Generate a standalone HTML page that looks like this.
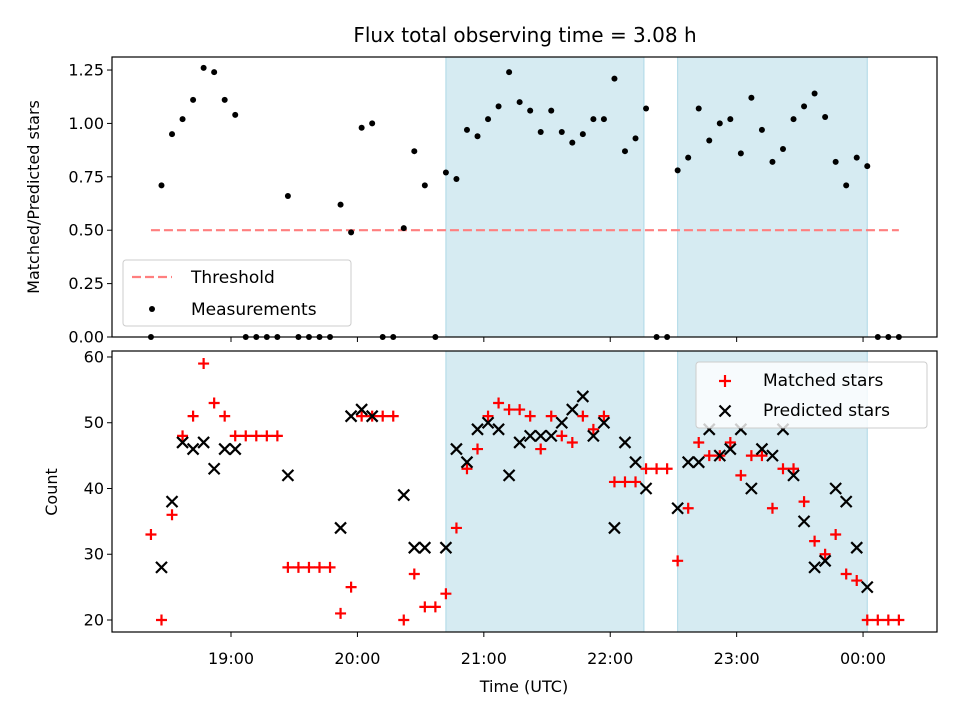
<!DOCTYPE html>
<html><head><meta charset="utf-8"><style>
html,body{margin:0;padding:0;background:#fff;}
svg{display:block;font-family:"DejaVu Sans","Liberation Sans",sans-serif;}
</style></head><body>
<svg id="fig" width="960" height="720" viewBox="0 0 960 720" xmlns="http://www.w3.org/2000/svg">
<rect width="960" height="720" fill="#fff"/>
<text x="525" y="42" font-size="20" text-anchor="middle">Flux total observing time = 3.08 h</text>
<g id="top"></g><g id="bot"></g>
</svg>
<script>
const times = ["18:22","18:27","18:32","18:37","18:42","18:47","18:52","18:57",
"19:02","19:07","19:12","19:17","19:22","19:27","19:32","19:37","19:42","19:47","19:52","19:57",
"20:02","20:07","20:12","20:17","20:22","20:27","20:32","20:37","20:42","20:47","20:52","20:57",
"21:02","21:07","21:12","21:17","21:22","21:27","21:32","21:37","21:42","21:47","21:52","21:57",
"22:02","22:07","22:12","22:17","22:22","22:27","22:32","22:37","22:42","22:47","22:52","22:57",
"23:02","23:07","23:12","23:17","23:22","23:27","23:32","23:37","23:42","23:47","23:52","23:57",
"00:02","00:07","00:12","00:17"];
const ratio = [0,0.71,0.95,1.02,1.11,1.26,1.24,1.11,1.04,0,0,0,0,0.66,0,0,0,0,0.62,0.49,
0.98,1.00,0,0,0.51,0.87,0.71,0,0.77,0.74,0.97,0.94,1.02,1.08,1.24,1.10,1.06,0.96,1.06,0.96,
0.91,0.95,1.02,1.02,1.21,0.87,0.93,1.07,0,0,0.78,0.84,1.07,0.92,1.00,1.02,0.86,1.12,0.97,0.82,
0.88,1.02,1.08,1.14,1.03,0.82,0.71,0.84,0.80,0,0,0];
const matched = [33,20,36,48,51,59,53,51,48,48,48,48,48,28,28,28,28,28,21,25,
51,51,51,51,20,27,22,22,24,34,43,46,51,53,52,52,51,46,51,48,
47,51,49,51,41,41,41,43,43,43,29,37,47,45,45,47,42,45,45,37,
43,43,38,32,30,33,27,26,20,20,20,20];
const predicted = [null,28,38,47,46,47,43,46,46,null,null,null,null,42,null,null,null,null,34,51,
52,51,null,null,39,31,31,null,31,46,44,49,50,49,42,47,48,48,48,50,
52,54,48,50,34,47,44,40,null,null,37,44,44,49,45,46,49,40,46,45,
49,42,35,28,29,40,38,31,25,null,null,null];
const spanStarts = ["20:42","22:32"];
const spanEnds = ["22:16","00:02"];
const threshold = 0.5;
const topTicks = [0,0.25,0.5,0.75,1.0,1.25];
const botTicks = [20,30,40,50,60];
const xTickLabels = ["19:00","20:00","21:00","22:00","23:00","00:00"];

const NS="http://www.w3.org/2000/svg";
function mk(tag,attrs,parent){const e=document.createElementNS(NS,tag);for(const k in attrs)e.setAttribute(k,attrs[k]);parent.appendChild(e);return e;}
function hrs(s){let [h,m]=s.split(":").map(Number);if(h<12)h+=24;return h+m/60;}
const L=112,R=937,X0=18.0585,X1=24.585;
function xs(t){return L+(hrs(t)-X0)/(X1-X0)*(R-L);}
const TT=57,TB=337,TY0=0,TY1=1.311;
function yt(v){return TB-(v-TY0)/(TY1-TY0)*(TB-TT);}
const BT=351,BB=632,BY0=18.175,BY1=60.91;
function yb(v){return BB-(v-BY0)/(BY1-BY0)*(BB-BT);}

function panel(g,top,bottom,yfn,ticks,fmt,name){
  for(let i=0;i<spanStarts.length;i++){
    const x1=xs(spanStarts[i]),x2=xs(spanEnds[i]);
    const r=mk("rect",{x:x1,y:top,width:x2-x1,height:bottom-top,fill:"#add8e6","fill-opacity":0.5,stroke:"#add8e6","stroke-width":1},g);
    
    
  }
  ticks.forEach(v=>{const y=yfn(v);
    mk("line",{x1:L-5,x2:L,y1:y,y2:y,stroke:"#000","stroke-width":1},g);
    const t=mk("text",{x:L-8,y:y+5.5,"font-size":16,"text-anchor":"end"},g);t.textContent=fmt(v);
    
    
  });
  xTickLabels.forEach(s=>{const x=xs(s);mk("line",{x1:x,x2:x,y1:bottom,y2:bottom+5,stroke:"#000","stroke-width":1},g);});
}
const gt=document.getElementById("top"),gb=document.getElementById("bot");
panel(gt,TT,TB,yt,topTicks,v=>v.toFixed(2),"top");
panel(gb,BT,BB,yb,botTicks,v=>String(v),"bot");
const th=mk("line",{x1:xs(times[0]),x2:xs(times[times.length-1]),y1:yt(threshold),y2:yt(threshold),stroke:"#ff7f7f","stroke-width":2.2,"stroke-dasharray":"9,4"},gt);


ratio.forEach((v,i)=>{const c=mk("circle",{cx:xs(times[i]),cy:yt(v),r:3,fill:"#000"},gt);
  
  });
matched.forEach((v,i)=>{if(v==null)return;const x=xs(times[i]),y=yb(v);
  const p=mk("path",{d:`M${x-5.5},${y}H${x+5.5}M${x},${y-5.5}V${y+5.5}`,stroke:"#f00","stroke-width":2.2,fill:"none"},gb);
  
  });
predicted.forEach((v,i)=>{if(v==null)return;const x=xs(times[i]),y=yb(v),d=5.5;
  const p=mk("path",{d:`M${x-d},${y-d}L${x+d},${y+d}M${x-d},${y+d}L${x+d},${y-d}`,stroke:"#000","stroke-width":2.2,fill:"none"},gb);
  
  });
[[gt,TT,TB],[gb,BT,BB]].forEach(([g,t,b])=>{mk("rect",{x:L,y:t,width:R-L,height:b-t,fill:"none",stroke:"#000","stroke-width":1.2},g);});
xTickLabels.forEach(s=>{const t=mk("text",{x:xs(s),y:BB+32,"font-size":16,"text-anchor":"middle"},gb);t.textContent=s;
  
  });
</script>
<svg style="position:absolute;left:0;top:0" width="960" height="720">
<text x="524" y="692" font-size="16" text-anchor="middle">Time (UTC)</text>
<text transform="translate(39,197) rotate(-90)" font-size="16" text-anchor="middle">Matched/Predicted stars</text>
<text transform="translate(57,492) rotate(-90)" font-size="16" text-anchor="middle">Count</text>
<g>
<rect x="123" y="260" width="228" height="66" rx="3" fill="#fff" fill-opacity="0.8" stroke="#ccc"/>
<line x1="132" x2="172" y1="277" y2="277" stroke="#ff7f7f" stroke-width="2.2" stroke-dasharray="9,4"/>
<text x="191" y="283" font-size="17">Threshold</text>
<circle cx="152" cy="309" r="3" fill="#000"/>
<text x="191" y="315" font-size="17">Measurements</text>
</g>
<g>
<rect x="696" y="362" width="231" height="66" rx="3" fill="#fff" fill-opacity="0.8" stroke="#ccc"/>
<path d="M719,381H731M725,375V387" stroke="#f00" stroke-width="2.2"/>
<text x="763" y="386" font-size="17">Matched stars</text>
<path d="M719.5,405.5L730.5,416.5M719.5,416.5L730.5,405.5" stroke="#000" stroke-width="2.2"/>
<text x="763" y="416" font-size="17">Predicted stars</text>
</g>
</svg>
</body></html>
